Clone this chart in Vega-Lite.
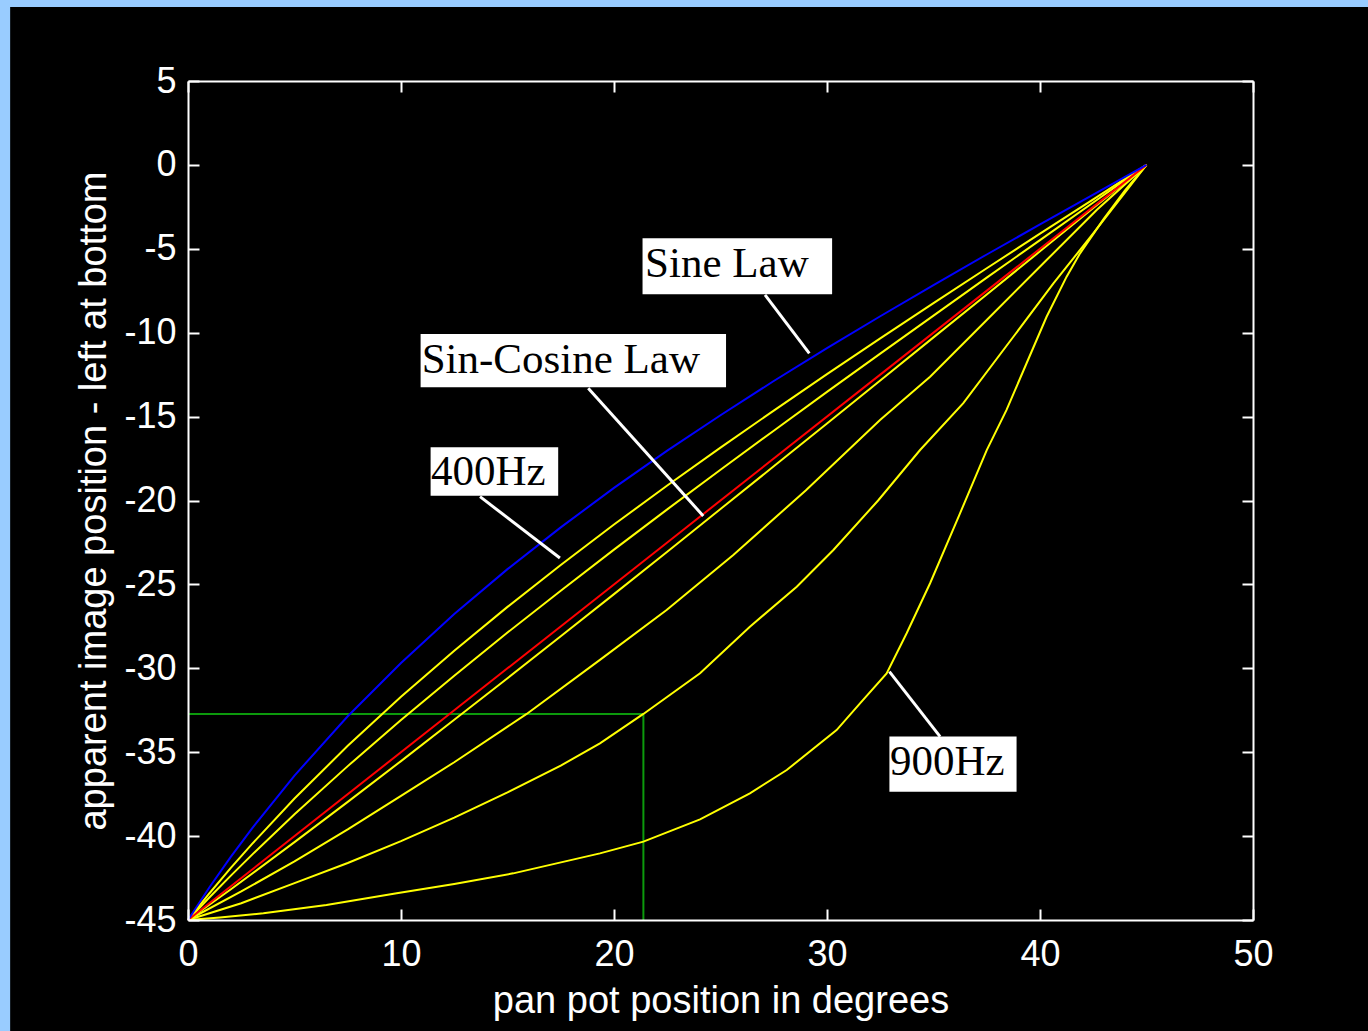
{
  "$schema": "https://vega.github.io/schema/vega-lite/v6.json",
  "width": 1065,
  "height": 839,
  "autosize": {"type": "none"},
  "padding": {"left": 188, "top": 81, "right": 115, "bottom": 111},
  "background": "#99ccff",
  "config": {
    "axis": {
      "grid": false,
      "domain": true,
      "domainColor": "#ffffff",
      "domainWidth": 2,
      "ticks": true,
      "tickColor": "#ffffff",
      "tickWidth": 2,
      "tickSize": -11,
      "labelColor": "#ffffff",
      "labelFont": "Liberation Sans",
      "labelFontSize": 36,
      "labelFlush": false,
      "labelOverlap": false,
      "titleColor": "#ffffff",
      "titleFont": "Liberation Sans",
      "titleFontSize": 38,
      "titleFontWeight": "normal"
    }
  },
  "datasets": {
    "curves": [
      {"curve": "Sine Law", "x": 0, "y": -45}, {"curve": "Sine Law", "x": 1, "y": -43.06}, {"curve": "Sine Law", "x": 2, "y": -41.25}, {"curve": "Sine Law", "x": 3, "y": -39.55}, {"curve": "Sine Law", "x": 5, "y": -36.39}, {"curve": "Sine Law", "x": 7.5, "y": -32.86}, {"curve": "Sine Law", "x": 10, "y": -29.68}, {"curve": "Sine Law", "x": 12.5, "y": -26.77}, {"curve": "Sine Law", "x": 15, "y": -24.09}, {"curve": "Sine Law", "x": 17.5, "y": -21.6}, {"curve": "Sine Law", "x": 20, "y": -19.25}, {"curve": "Sine Law", "x": 22.5, "y": -17.03}, {"curve": "Sine Law", "x": 25, "y": -14.92}, {"curve": "Sine Law", "x": 27.5, "y": -12.88}, {"curve": "Sine Law", "x": 30, "y": -10.92}, {"curve": "Sine Law", "x": 32.5, "y": -9.02}, {"curve": "Sine Law", "x": 35, "y": -7.16}, {"curve": "Sine Law", "x": 37.5, "y": -5.34}, {"curve": "Sine Law", "x": 40, "y": -3.55}, {"curve": "Sine Law", "x": 42.5, "y": -1.77}, {"curve": "Sine Law", "x": 45, "y": 0},
      {"curve": "Sin-Cosine Law", "x": 0, "y": -45}, {"curve": "Sin-Cosine Law", "x": 12.5, "y": -32.5}, {"curve": "Sin-Cosine Law", "x": 22.5, "y": -22.5}, {"curve": "Sin-Cosine Law", "x": 32.5, "y": -12.5}, {"curve": "Sin-Cosine Law", "x": 45, "y": 0},
      {"curve": "400Hz", "x": 0, "y": -45}, {"curve": "400Hz", "x": 1, "y": -43.42}, {"curve": "400Hz", "x": 2, "y": -41.91}, {"curve": "400Hz", "x": 3, "y": -40.48}, {"curve": "400Hz", "x": 5, "y": -37.76}, {"curve": "400Hz", "x": 7.5, "y": -34.62}, {"curve": "400Hz", "x": 10, "y": -31.7}, {"curve": "400Hz", "x": 12.5, "y": -28.95}, {"curve": "400Hz", "x": 15, "y": -26.34}, {"curve": "400Hz", "x": 17.5, "y": -23.84}, {"curve": "400Hz", "x": 20, "y": -21.43}, {"curve": "400Hz", "x": 22.5, "y": -19.11}, {"curve": "400Hz", "x": 25, "y": -16.85}, {"curve": "400Hz", "x": 27.5, "y": -14.64}, {"curve": "400Hz", "x": 30, "y": -12.47}, {"curve": "400Hz", "x": 32.5, "y": -10.34}, {"curve": "400Hz", "x": 35, "y": -8.24}, {"curve": "400Hz", "x": 37.5, "y": -6.16}, {"curve": "400Hz", "x": 40, "y": -4.1}, {"curve": "400Hz", "x": 42.5, "y": -2.05}, {"curve": "400Hz", "x": 45, "y": 0},
      {"curve": "y2", "x": 0, "y": -45}, {"curve": "y2", "x": 1, "y": -43.66}, {"curve": "y2", "x": 2, "y": -42.37}, {"curve": "y2", "x": 3, "y": -41.12}, {"curve": "y2", "x": 5, "y": -38.7}, {"curve": "y2", "x": 7.5, "y": -35.83}, {"curve": "y2", "x": 10, "y": -33.08}, {"curve": "y2", "x": 12.5, "y": -30.44}, {"curve": "y2", "x": 15, "y": -27.87}, {"curve": "y2", "x": 17.5, "y": -25.38}, {"curve": "y2", "x": 20, "y": -22.93}, {"curve": "y2", "x": 22.5, "y": -20.53}, {"curve": "y2", "x": 25, "y": -18.17}, {"curve": "y2", "x": 27.5, "y": -15.84}, {"curve": "y2", "x": 30, "y": -13.53}, {"curve": "y2", "x": 32.5, "y": -11.25}, {"curve": "y2", "x": 35, "y": -8.98}, {"curve": "y2", "x": 37.5, "y": -6.72}, {"curve": "y2", "x": 40, "y": -4.48}, {"curve": "y2", "x": 42.5, "y": -2.24}, {"curve": "y2", "x": 45, "y": 0},
      {"curve": "y3", "x": 0, "y": -45}, {"curve": "y3", "x": 2, "y": -43.18}, {"curve": "y3", "x": 5, "y": -40.36}, {"curve": "y3", "x": 7.5, "y": -37.96}, {"curve": "y3", "x": 10, "y": -35.53}, {"curve": "y3", "x": 12.5, "y": -33.07}, {"curve": "y3", "x": 15, "y": -30.59}, {"curve": "y3", "x": 17.5, "y": -28.09}, {"curve": "y3", "x": 20, "y": -25.58}, {"curve": "y3", "x": 22.5, "y": -23.05}, {"curve": "y3", "x": 25, "y": -20.51}, {"curve": "y3", "x": 27.5, "y": -17.96}, {"curve": "y3", "x": 30, "y": -15.41}, {"curve": "y3", "x": 32.5, "y": -12.85}, {"curve": "y3", "x": 35, "y": -10.28}, {"curve": "y3", "x": 37.5, "y": -7.72}, {"curve": "y3", "x": 40, "y": -5.15}, {"curve": "y3", "x": 42.5, "y": -2.57}, {"curve": "y3", "x": 45, "y": 0},
      {"curve": "y4", "x": 0, "y": -45}, {"curve": "y4", "x": 2.5, "y": -43.3}, {"curve": "y4", "x": 5, "y": -41.5}, {"curve": "y4", "x": 7.5, "y": -39.6}, {"curve": "y4", "x": 10, "y": -37.6}, {"curve": "y4", "x": 12.5, "y": -35.6}, {"curve": "y4", "x": 15.9, "y": -32.72}, {"curve": "y4", "x": 19.34, "y": -29.5}, {"curve": "y4", "x": 22.47, "y": -26.53}, {"curve": "y4", "x": 25.6, "y": -23.25}, {"curve": "y4", "x": 29, "y": -19.4}, {"curve": "y4", "x": 32.49, "y": -15.2}, {"curve": "y4", "x": 34.84, "y": -12.62}, {"curve": "y4", "x": 37.5, "y": -9.24}, {"curve": "y4", "x": 40.31, "y": -5.67}, {"curve": "y4", "x": 42.66, "y": -2.69}, {"curve": "y4", "x": 45, "y": 0},
      {"curve": "y5", "x": 0, "y": -45}, {"curve": "y5", "x": 2.5, "y": -44.0}, {"curve": "y5", "x": 5, "y": -42.8}, {"curve": "y5", "x": 7.5, "y": -41.6}, {"curve": "y5", "x": 10, "y": -40.3}, {"curve": "y5", "x": 12.5, "y": -38.9}, {"curve": "y5", "x": 15, "y": -37.4}, {"curve": "y5", "x": 17.5, "y": -35.8}, {"curve": "y5", "x": 19.34, "y": -34.47}, {"curve": "y5", "x": 21.38, "y": -32.72}, {"curve": "y5", "x": 24.04, "y": -30.3}, {"curve": "y5", "x": 26.38, "y": -27.52}, {"curve": "y5", "x": 28.58, "y": -25.14}, {"curve": "y5", "x": 30.3, "y": -22.95}, {"curve": "y5", "x": 32.4, "y": -20.0}, {"curve": "y5", "x": 34.37, "y": -16.99}, {"curve": "y5", "x": 36.4, "y": -14.2}, {"curve": "y5", "x": 38.75, "y": -10.24}, {"curve": "y5", "x": 40.63, "y": -7.06}, {"curve": "y5", "x": 42.5, "y": -4.08}, {"curve": "y5", "x": 45, "y": 0},
      {"curve": "900Hz", "x": 0, "y": -45}, {"curve": "900Hz", "x": 1.5, "y": -44.85}, {"curve": "900Hz", "x": 3.54, "y": -44.6}, {"curve": "900Hz", "x": 6.5, "y": -44.1}, {"curve": "900Hz", "x": 9.8, "y": -43.4}, {"curve": "900Hz", "x": 12.5, "y": -42.85}, {"curve": "900Hz", "x": 15.27, "y": -42.22}, {"curve": "900Hz", "x": 19.34, "y": -41.03}, {"curve": "900Hz", "x": 21.38, "y": -40.33}, {"curve": "900Hz", "x": 24.04, "y": -39.0}, {"curve": "900Hz", "x": 26.38, "y": -37.45}, {"curve": "900Hz", "x": 28.11, "y": -36.06}, {"curve": "900Hz", "x": 30.45, "y": -33.68}, {"curve": "900Hz", "x": 31.55, "y": -32.09}, {"curve": "900Hz", "x": 32.8, "y": -30.3}, {"curve": "900Hz", "x": 33.74, "y": -27.91}, {"curve": "900Hz", "x": 34.84, "y": -24.93}, {"curve": "900Hz", "x": 36.2, "y": -20.9}, {"curve": "900Hz", "x": 37.5, "y": -17.0}, {"curve": "900Hz", "x": 38.43, "y": -14.6}, {"curve": "900Hz", "x": 39.37, "y": -11.82}, {"curve": "900Hz", "x": 40.31, "y": -9.05}, {"curve": "900Hz", "x": 41.25, "y": -6.66}, {"curve": "900Hz", "x": 41.88, "y": -5.27}, {"curve": "900Hz", "x": 43.0, "y": -3.2}, {"curve": "900Hz", "x": 44.0, "y": -1.5}, {"curve": "900Hz", "x": 45, "y": 0}
    ],
    "labels": [
      {"label": "Sine Law", "tx": 21.46, "ty": -6.68, "bx1": 21.34, "bx2": 30.24, "by1": -4.37, "by2": -7.71, "lx1": 27.09, "ly1": -7.75, "lx2": 29.17, "ly2": -11.23},
      {"label": "Sin-Cosine Law", "tx": 10.97, "ty": -12.42, "bx1": 10.92, "bx2": 25.26, "by1": -10.08, "by2": -13.25, "lx1": 18.79, "ly1": -13.31, "lx2": 24.19, "ly2": -20.92},
      {"label": "400Hz", "tx": 11.41, "ty": -19.08, "bx1": 11.39, "bx2": 17.38, "by1": -16.83, "by2": -19.71, "lx1": 13.71, "ly1": -19.77, "lx2": 17.46, "ly2": -23.43},
      {"label": "900Hz", "tx": 32.96, "ty": -36.36, "bx1": 32.93, "bx2": 38.9, "by1": -34.07, "by2": -37.35, "lx1": 35.31, "ly1": -34.07, "lx2": 32.93, "ly2": -30.2}
    ],
    "guide": [
      {"x": 0, "x2": 21.38, "y": -32.72, "y2": -32.72},
      {"x": 21.38, "x2": 21.38, "y": -45, "y2": -32.72}
    ]
  },
  "layer": [
    {
      "layer": [
        {
          "data": {"values": [{}]},
          "mark": {"type": "rect", "color": "#000000"},
          "encoding": {
            "x": {
              "datum": -8.35, "type": "quantitative",
              "scale": {"domain": [0, 50], "nice": false, "zero": false},
              "axis": {
                "orient": "bottom",
                "zindex": 1,
                "values": [0, 10, 20, 30, 40, 50],
                "labelExpr": "toString(datum.value)",
                "labelPadding": 28,
                "title": "pan pot position in degrees",
                "titleBaseline": "alphabetic",
                "titleX": 532.5,
                "titleY": 92
              }
            },
            "x2": {"datum": 56},
            "y": {
              "datum": 9.41, "type": "quantitative",
              "scale": {"domain": [-45, 5], "nice": false, "zero": false},
              "axis": {
                "orient": "left",
                "zindex": 1,
                "values": [-45, -40, -35, -30, -25, -20, -15, -10, -5, 0, 5],
                "labelExpr": "toString(datum.value)",
                "labelPadding": 23,
                "title": "apparent image position - left at bottom",
                "titleBaseline": "alphabetic",
                "titleAngle": 270,
                "titleX": -83,
                "titleY": 419.5
              }
            },
            "y2": {"datum": -52}
          }
        },
        {
          "data": {"name": "guide"},
          "mark": {"type": "rule", "color": "#0c9a0c", "strokeWidth": 2},
          "encoding": {
            "x": {"field": "x", "type": "quantitative"},
            "x2": {"field": "x2"},
            "y": {"field": "y", "type": "quantitative"},
            "y2": {"field": "y2"}
          }
        },
        {
          "data": {"name": "curves"},
          "transform": [{"filter": {"field": "curve", "oneOf": ["400Hz", "y2", "y3", "y4", "y5", "900Hz"]}}],
          "mark": {"type": "line", "color": "#ffff00", "strokeWidth": 2},
          "encoding": {
            "x": {"field": "x", "type": "quantitative"},
            "y": {"field": "y", "type": "quantitative"},
            "detail": {"field": "curve"}
          }
        },
        {
          "data": {"name": "curves"},
          "transform": [{"filter": {"field": "curve", "equal": "Sin-Cosine Law"}}],
          "mark": {"type": "line", "color": "#ff0000", "strokeWidth": 2},
          "encoding": {
            "x": {"field": "x", "type": "quantitative"},
            "y": {"field": "y", "type": "quantitative"}
          }
        },
        {
          "data": {"name": "curves"},
          "transform": [{"filter": {"field": "curve", "equal": "Sine Law"}}],
          "mark": {"type": "line", "color": "#0000ff", "strokeWidth": 2},
          "encoding": {
            "x": {"field": "x", "type": "quantitative"},
            "y": {"field": "y", "type": "quantitative"}
          }
        },
        {
          "data": {"name": "labels"},
          "mark": {"type": "rule", "color": "#ffffff", "strokeWidth": 3},
          "encoding": {
            "x": {"field": "lx1", "type": "quantitative"},
            "x2": {"field": "lx2"},
            "y": {"field": "ly1", "type": "quantitative"},
            "y2": {"field": "ly2"}
          }
        },
        {
          "data": {"name": "labels"},
          "mark": {"type": "rect", "color": "#ffffff"},
          "encoding": {
            "x": {"field": "bx1", "type": "quantitative"},
            "x2": {"field": "bx2"},
            "y": {"field": "by1", "type": "quantitative"},
            "y2": {"field": "by2"}
          }
        },
        {
          "data": {"name": "labels"},
          "mark": {"type": "text", "align": "left", "baseline": "alphabetic", "font": "Liberation Serif", "fontSize": 43, "color": "#000000"},
          "encoding": {
            "x": {"field": "tx", "type": "quantitative"},
            "y": {"field": "ty", "type": "quantitative"},
            "text": {"field": "label"}
          }
        }
      ]
    },
    {
      "data": {"values": [{}]},
      "mark": {"type": "point", "opacity": 0},
      "encoding": {
        "x": {
          "datum": 0, "type": "quantitative",
          "scale": {"domain": [0, 50], "nice": false, "zero": false},
          "axis": {"orient": "top", "zindex": 1, "values": [0, 10, 20, 30, 40, 50], "labels": false, "title": null}
        },
        "y": {
          "datum": -45, "type": "quantitative",
          "scale": {"domain": [-45, 5], "nice": false, "zero": false},
          "axis": {"orient": "right", "zindex": 1, "values": [-45, -40, -35, -30, -25, -20, -15, -10, -5, 0, 5], "labels": false, "title": null}
        }
      }
    }
  ],
  "resolve": {"axis": {"x": "independent", "y": "independent"}}
}
